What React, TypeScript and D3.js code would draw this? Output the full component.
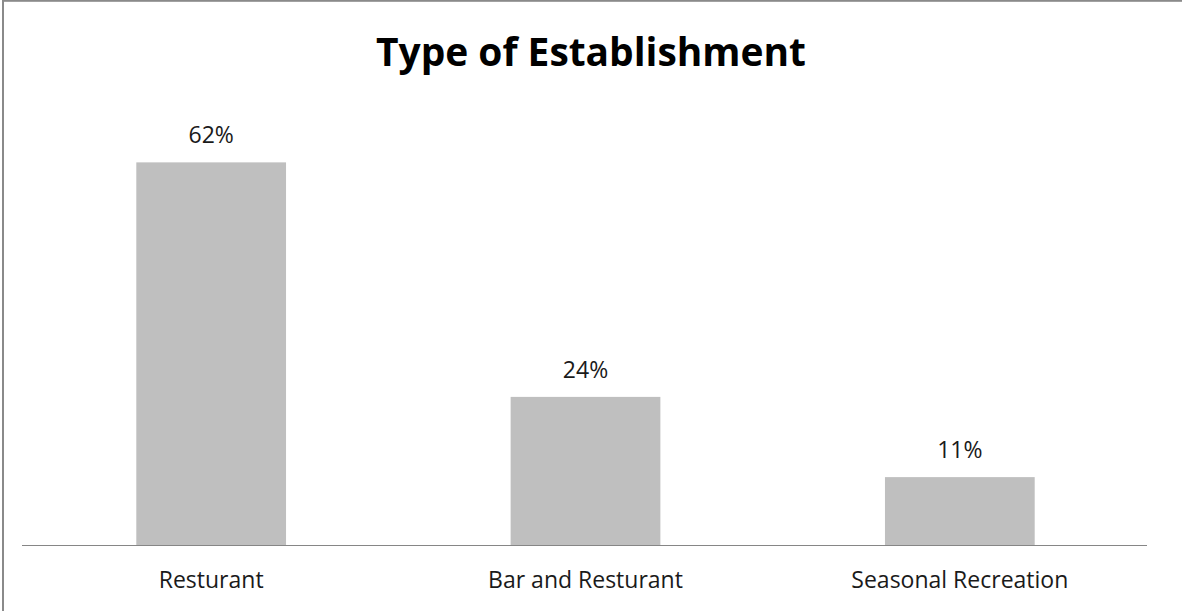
import React from "react";
import * as d3 from "d3";

const categories = ["Resturant", "Bar and Resturant", "Seasonal Recreation"];
const values = [62, 24, 11];
const title = "Type of Establishment";

const W = 1182;
const H = 611;

export default function App() {
  const x = d3
    .scaleBand<string>()
    .domain(categories)
    .range([24, 1147])
    .paddingInner(0.6)
    .paddingOuter(0.3);
  const y = d3.scaleLinear().domain([0, 70]).range([545, 113]);
  const fmt = (v: number) => `${v}%`;

  return (
    <svg
      width={W}
      height={H}
      style={{ position: "absolute", left: 0, top: 0, background: "#fff" }}
      fontFamily="'Open Sans', sans-serif"
    >
      <rect x={0} y={0} width={W} height={H} fill="#fff" />
      <rect
        x={3}
        y={0.8}
        width={W + 10}
        height={H + 10}
        fill="none"
        stroke="#8a8a8a"
        strokeWidth={2}
      />
      <text
        x={591}
        y={66}
        textAnchor="middle"
        fontSize={40}
        fontWeight={700}
        fill="#000"
        textLength={430}
        lengthAdjust="spacingAndGlyphs"
      >
        {title}
      </text>
      {categories.map((c, i) => (
        <g key={c}>
          <rect
            x={x(c)}
            y={y(values[i])}
            width={x.bandwidth()}
            height={y(0) - y(values[i])}
            fill="#bfbfbf"
          />
          <text
            x={(x(c) as number) + x.bandwidth() / 2}
            y={y(values[i]) - 19}
            textAnchor="middle"
            fontSize={23}
            fill="#1a1a1a"
          >
            {fmt(values[i])}
          </text>
          <text
            x={(x(c) as number) + x.bandwidth() / 2}
            y={588}
            textAnchor="middle"
            fontSize={23}
            fill="#1a1a1a"
          >
            {c}
          </text>
        </g>
      ))}
      <line x1={22} x2={1147} y1={545.5} y2={545.5} stroke="#868686" strokeWidth={1.2} />
    </svg>
  );
}
